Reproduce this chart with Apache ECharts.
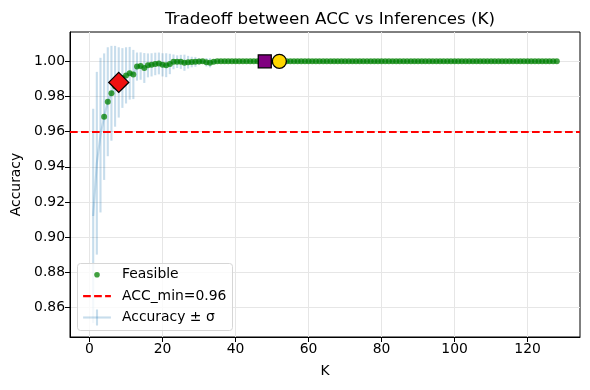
<!DOCTYPE html>
<html>
<head>
<meta charset="utf-8">
<title>Tradeoff between ACC vs Inferences (K)</title>
<script src="https://cdn.jsdelivr.net/npm/echarts@6/dist/echarts.min.js"></script>
<style>
  html, body { margin: 0; padding: 0; background: #fff; }
  #chart { width: 590px; height: 390px; }
</style>
</head>
<body>
<div id="chart"></div>
<script>
// number of inferences K
var kValues = [
  1, 2, 3, 4, 5, 6, 7, 8, 9, 10, 11, 12, 13, 14, 15, 16,
  17, 18, 19, 20, 21, 22, 23, 24, 25, 26, 27, 28, 29, 30, 31, 32,
  33, 34, 35, 36, 37, 38, 39, 40, 41, 42, 43, 44, 45, 46, 47, 48,
  49, 50, 51, 52, 53, 54, 55, 56, 57, 58, 59, 60, 61, 62, 63, 64,
  65, 66, 67, 68, 69, 70, 71, 72, 73, 74, 75, 76, 77, 78, 79, 80,
  81, 82, 83, 84, 85, 86, 87, 88, 89, 90, 91, 92, 93, 94, 95, 96,
  97, 98, 99, 100, 101, 102, 103, 104, 105, 106, 107, 108, 109, 110, 111, 112,
  113, 114, 115, 116, 117, 118, 119, 120, 121, 122, 123, 124, 125, 126, 127, 128
];
// mean accuracy per K
var accMean = [
  0.912, 0.942, 0.958, 0.9685, 0.977, 0.9818, 0.9858, 0.988, 0.9905, 0.992, 0.9932, 0.9925, 0.997, 0.9973, 0.9962, 0.9977,
  0.998, 0.9985, 0.9988, 0.998, 0.9978, 0.9985, 0.9997, 0.9998, 0.9997, 0.9992, 0.9995, 0.9996, 0.9997, 0.9999, 1.0, 0.9995,
  0.9992, 0.9998, 1, 1, 1, 1, 1, 1, 1, 1, 1, 1, 1, 1, 1, 1,
  1, 1, 1, 1, 1, 1, 1, 1, 1, 1, 1, 1, 1, 1, 1, 1,
  1, 1, 1, 1, 1, 1, 1, 1, 1, 1, 1, 1, 1, 1, 1, 1,
  1, 1, 1, 1, 1, 1, 1, 1, 1, 1, 1, 1, 1, 1, 1, 1,
  1, 1, 1, 1, 1, 1, 1, 1, 1, 1, 1, 1, 1, 1, 1, 1,
  1, 1, 1, 1, 1, 1, 1, 1, 1, 1, 1, 1, 1, 1, 1, 1
];
// standard deviation per K
var accStd = [
  0.061, 0.052, 0.044, 0.036, 0.031, 0.027, 0.023, 0.020, 0.017, 0.016, 0.015, 0.014, 0.008, 0.0078, 0.0085, 0.0068,
  0.0066, 0.0064, 0.0062, 0.0066, 0.0068, 0.0058, 0.0042, 0.0036, 0.0040, 0.0046, 0.0036, 0.0030, 0.0028, 0.0018, 0.0012, 0.0024,
  0.0026, 0.0014, 0, 0, 0, 0, 0, 0, 0, 0, 0, 0, 0, 0, 0, 0,
  0, 0, 0, 0, 0, 0, 0, 0, 0, 0, 0, 0, 0, 0, 0, 0,
  0, 0, 0, 0, 0, 0, 0, 0, 0, 0, 0, 0, 0, 0, 0, 0,
  0, 0, 0, 0, 0, 0, 0, 0, 0, 0, 0, 0, 0, 0, 0, 0,
  0, 0, 0, 0, 0, 0, 0, 0, 0, 0, 0, 0, 0, 0, 0, 0,
  0, 0, 0, 0, 0, 0, 0, 0, 0, 0, 0, 0, 0, 0, 0, 0
];
var accMinValue = 0.96;
var diamondK = 8;
var squareK = 48;
var circleK = 52;
var xTicks = [0, 20, 40, 60, 80, 100, 120];
var yTicks = [0.86, 0.88, 0.90, 0.92, 0.94, 0.96, 0.98, 1.00];

var FONT = 'DejaVu Sans';
var ERR_COLOR = 'rgba(31,119,180,0.25)';
var GREEN = '#008000';
var LW = 2.1; // 1.5pt at 100 dpi

// matplotlib-like 5% margins
var kLo = Math.min.apply(null, kValues), kHi = Math.max.apply(null, kValues);
var lows = accMean.map(function (m, i) { return m - accStd[i]; });
var highs = accMean.map(function (m, i) { return m + accStd[i]; });
var yLo = Math.min.apply(null, lows), yHi = Math.max.apply(null, highs);
var xMin = kLo - 0.05 * (kHi - kLo), xMax = kHi + 0.05 * (kHi - kLo);
var yMin = yLo - 0.05 * (yHi - yLo), yMax = yHi + 0.05 * (yHi - yLo);

var errData = kValues.map(function (k, i) { return [k, lows[i], highs[i]]; });
var meanData = kValues.map(function (k, i) { return [k, accMean[i]]; });
var feasible = [];
kValues.forEach(function (k, i) {
  if (accMean[i] >= accMinValue) feasible.push([k, accMean[i]]);
});
function pointAt(k) { return [[k, accMean[kValues.indexOf(k)]]]; }

var myChart = echarts.init(document.getElementById('chart'), null, { renderer: 'canvas' });

var textStyle = { fontFamily: FONT, fontSize: 13.9, fill: '#000', verticalAlign: 'middle' };
function legendText(str, y) {
  return { type: 'text', x: 44.5, y: y, z: 101, style: Object.assign({ text: str }, textStyle) };
}

var option = {
  animation: false,
  backgroundColor: '#fff',
  title: {
    text: 'Tradeoff between ACC vs Inferences (K)',
    left: 325,
    textAlign: 'center',
    top: 6,
    textStyle: { fontFamily: FONT, fontSize: 16.7, fontWeight: 'normal', color: '#000' }
  },
  grid: {
    left: 70, right: 10, top: 32, bottom: 53,
    show: true, borderColor: '#000', borderWidth: 1, backgroundColor: 'transparent'
  },
  xAxis: {
    type: 'value',
    min: xMin, max: xMax,
    name: 'K', nameLocation: 'middle', nameGap: 27,
    nameTextStyle: { fontFamily: FONT, fontSize: 13.9, color: '#000' },
    axisLine: { show: true, onZero: false, lineStyle: { color: '#000', width: 1 } },
    axisTick: { show: true, customValues: xTicks, length: 5, lineStyle: { color: '#000', width: 1 } },
    axisLabel: { customValues: xTicks, margin: 5, fontFamily: FONT, fontSize: 13.9, color: '#000' },
    splitLine: { show: true, lineStyle: { color: '#e6e6e6', width: 1 } }
  },
  yAxis: {
    type: 'value',
    min: yMin, max: yMax,
    name: 'Accuracy', nameLocation: 'middle', nameGap: 47,
    nameTextStyle: { fontFamily: FONT, fontSize: 13.9, color: '#000' },
    axisLine: { show: true, onZero: false, lineStyle: { color: '#000', width: 1 } },
    axisTick: { show: true, customValues: yTicks, length: 5, lineStyle: { color: '#000', width: 1 } },
    axisLabel: {
      customValues: yTicks, margin: 5, fontFamily: FONT, fontSize: 13.9, color: '#000',
      formatter: function (v) { return v.toFixed(2); }
    },
    splitLine: { show: true, lineStyle: { color: '#e6e6e6', width: 1 } }
  },
  series: [
    {
      name: 'errbars',
      type: 'custom',
      data: errData,
      encode: { x: 0, y: [1, 2] },
      silent: true,
      z: 1,
      renderItem: function (params, api) {
        var lo = api.coord([api.value(0), api.value(1)]);
        var hi = api.coord([api.value(0), api.value(2)]);
        return {
          type: 'line',
          shape: { x1: lo[0], y1: lo[1], x2: hi[0], y2: hi[1] },
          style: { stroke: ERR_COLOR, lineWidth: LW }
        };
      }
    },
    {
      name: 'Accuracy ± σ',
      type: 'line',
      data: meanData,
      showSymbol: false,
      symbol: 'none',
      silent: true,
      z: 1,
      lineStyle: { color: ERR_COLOR, width: LW }
    },
    {
      name: 'Feasible',
      type: 'scatter',
      data: feasible,
      symbolSize: 6,
      z: 2,
      itemStyle: { color: GREEN, opacity: 0.75 },
      markLine: {
        silent: true,
        symbol: 'none',
        label: { show: false },
        lineStyle: { color: '#ff0000', width: LW, type: [7.7, 3.3] },
        data: [{ yAxis: accMinValue }]
      }
    },
    {
      type: 'scatter', data: pointAt(diamondK), symbol: 'diamond', symbolSize: 20, z: 5,
      itemStyle: { color: '#ee1111', borderColor: '#000', borderWidth: 1.3, opacity: 1 }
    },
    {
      type: 'scatter', data: pointAt(squareK), symbol: 'rect', symbolSize: 13, z: 5,
      itemStyle: { color: '#800080', borderColor: '#000', borderWidth: 1.3, opacity: 1 }
    },
    {
      type: 'scatter', data: pointAt(circleK), symbol: 'circle', symbolSize: 14, z: 5,
      itemStyle: { color: '#ffd700', borderColor: '#000', borderWidth: 1.3, opacity: 1 }
    }
  ],
  graphic: [
    {
      type: 'group', left: 77, top: 263, z: 100,
      children: [
        { type: 'rect', z: 100, shape: { x: 0, y: 0, width: 155, height: 67, r: 3 },
          style: { fill: 'rgba(255,255,255,0.8)', stroke: '#d6d6d6', lineWidth: 1 } },
        { type: 'circle', z: 101, shape: { cx: 19.5, cy: 11.3, r: 2.8 },
          style: { fill: GREEN, opacity: 0.75 } },
        legendText('Feasible', 11.3),
        { type: 'line', z: 101, shape: { x1: 5.6, y1: 32.6, x2: 33.4, y2: 32.6 },
          style: { stroke: '#ff0000', lineWidth: LW, lineDash: [7.7, 3.3] } },
        legendText('ACC_min=0.96', 32.6),
        { type: 'line', z: 101, shape: { x1: 5.6, y1: 54, x2: 33.4, y2: 54 },
          style: { stroke: ERR_COLOR, lineWidth: LW } },
        { type: 'line', z: 101, shape: { x1: 19.5, y1: 46, x2: 19.5, y2: 62 },
          style: { stroke: ERR_COLOR, lineWidth: LW } },
        legendText('Accuracy ± σ', 54)
      ]
    }
  ]
};

myChart.setOption(option);
</script>
</body>
</html>
